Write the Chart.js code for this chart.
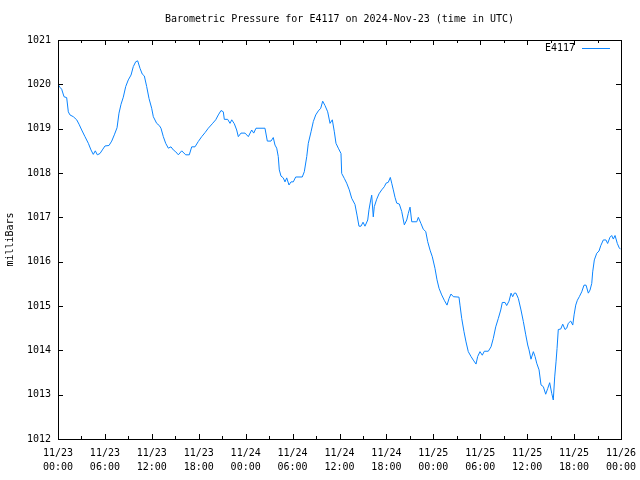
<!DOCTYPE html>
<html>
<head>
<meta charset="utf-8">
<script src="https://cdn.jsdelivr.net/npm/chart.js@4/dist/chart.umd.min.js"></script>
<style>
  html, body { margin: 0; padding: 0; background: #fff; }
  canvas { display: block; }
</style>
</head>
<body>
<canvas id="pressureChart" width="640" height="480"></canvas>
<script>
// hours since 2024-11-23 00:00 UTC
const hours = [
  0.00, 0.26, 0.47, 0.77, 1.11, 1.32, 1.53, 1.96, 2.39, 2.69, 3.03, 3.45, 3.88, 4.22, 4.51, 4.77,
  5.03, 5.37, 5.67, 6.01, 6.52, 6.87, 7.20, 7.55, 7.80, 8.06, 8.35, 8.66, 8.99, 9.34, 9.63, 9.94,
  10.19, 10.49, 10.78, 11.04, 11.34, 11.64, 11.98, 12.19, 12.62, 12.96,
  13.17, 13.47, 13.77, 14.11, 14.45, 14.75, 15.05, 15.39, 15.82, 16.33, 16.79, 17.10, 17.52, 17.94,
  18.38, 18.80, 19.22, 19.73, 20.17, 20.50, 20.85, 21.14, 21.27, 21.70, 22.00, 22.22, 22.55, 22.85,
  23.06, 23.40, 23.92, 24.34, 24.77, 25.03, 25.32, 26.47,
  26.77, 27.24, 27.53, 27.75, 27.97, 28.17, 28.30, 28.52, 28.81, 29.03, 29.25, 29.54, 29.80, 30.09,
  30.40, 31.24, 31.50, 31.81, 32.01, 32.36, 32.65, 32.96, 33.29, 33.60, 33.85, 34.15, 34.49, 34.79,
  35.08, 35.34, 35.55, 35.85, 36.19, 36.28, 36.61, 36.92, 37.25, 37.56, 37.98, 38.24, 38.49,
  38.75, 39.01, 39.26, 39.61, 39.77, 39.99, 40.12, 40.32, 40.45, 40.76, 41.05, 41.40, 41.73, 41.95,
  42.24, 42.50, 42.68, 42.88, 43.10, 43.32, 43.65, 43.96, 44.29, 44.60, 44.80, 45.02, 45.24, 45.88,
  46.08, 46.42, 46.72, 47.03, 47.28, 47.58, 47.87, 48.21, 48.47, 48.73, 49.07, 49.40, 49.75, 50.01,
  50.26, 50.56, 51.28,
  51.41, 51.63, 51.92, 52.18, 52.47, 52.82, 53.11, 53.46, 53.67, 53.97, 54.26, 54.52, 55.03, 55.38,
  55.67, 55.98, 56.31, 56.62, 56.82, 57.17, 57.38, 57.68, 57.94, 58.15, 58.36, 58.57, 58.87, 59.21,
  59.51, 59.82, 60.07, 60.24, 60.49, 60.79, 61.01, 61.22, 61.52, 61.77, 62.07, 62.37, 62.63, 62.88,
  63.14, 63.34, 63.52, 63.69, 63.82, 63.98,
  64.29, 64.55, 64.84, 65.06, 65.26, 65.57, 65.83, 66.00, 66.21, 66.42, 66.67, 66.98, 67.27, 67.53,
  67.82, 68.04, 68.26, 68.38, 68.59, 68.90, 69.19, 69.41, 69.74, 70.07, 70.29, 70.59, 70.81, 71.02,
  71.24, 71.53, 71.78, 71.95
];

// milliBars
const pressure = [
  1020.00, 1019.93, 1019.89, 1019.72, 1019.70, 1019.38, 1019.31, 1019.27, 1019.20, 1019.10, 1018.97, 1018.82, 1018.67, 1018.52, 1018.42, 1018.50,
  1018.41, 1018.44, 1018.52, 1018.61, 1018.62, 1018.72, 1018.86, 1019.02, 1019.35, 1019.55, 1019.71, 1019.95, 1020.10, 1020.21, 1020.40, 1020.51,
  1020.53, 1020.36, 1020.23, 1020.19, 1019.95, 1019.68, 1019.46, 1019.27, 1019.12, 1019.07,
  1019.01, 1018.82, 1018.67, 1018.56, 1018.59, 1018.52, 1018.48, 1018.41, 1018.50, 1018.41, 1018.41, 1018.59, 1018.59, 1018.71,
  1018.82, 1018.91, 1019.01, 1019.11, 1019.20, 1019.31, 1019.41, 1019.38, 1019.21, 1019.21, 1019.12, 1019.20, 1019.11, 1018.97,
  1018.82, 1018.90, 1018.90, 1018.82, 1018.97, 1018.90, 1019.01, 1019.01,
  1018.72, 1018.72, 1018.80, 1018.63, 1018.56, 1018.37, 1018.07, 1017.93, 1017.89, 1017.80, 1017.89, 1017.73, 1017.80, 1017.80,
  1017.91, 1017.91, 1018.03, 1018.37, 1018.67, 1018.93, 1019.16, 1019.31, 1019.40, 1019.46, 1019.62, 1019.52, 1019.38, 1019.12,
  1019.20, 1018.93, 1018.67, 1018.56, 1018.44, 1017.99, 1017.88, 1017.77, 1017.62, 1017.43, 1017.29, 1017.05, 1016.80,
  1016.80, 1016.89, 1016.80, 1016.94, 1017.17, 1017.39, 1017.50, 1017.01, 1017.24, 1017.41, 1017.53, 1017.62, 1017.69, 1017.77,
  1017.79, 1017.90, 1017.77, 1017.62, 1017.45, 1017.32, 1017.30, 1017.13, 1016.83, 1016.94, 1017.09, 1017.23, 1016.90, 1016.90,
  1017.00, 1016.86, 1016.73, 1016.68, 1016.45, 1016.26, 1016.11, 1015.85, 1015.59, 1015.40, 1015.25, 1015.13, 1015.02, 1015.17,
  1015.27, 1015.21, 1015.20,
  1015.02, 1014.72, 1014.42, 1014.19, 1013.97, 1013.86, 1013.78, 1013.69, 1013.86, 1013.97, 1013.89, 1013.98, 1013.98, 1014.08,
  1014.27, 1014.53, 1014.72, 1014.91, 1015.08, 1015.08, 1015.01, 1015.11, 1015.29, 1015.21, 1015.29, 1015.29, 1015.17, 1014.91,
  1014.65, 1014.35, 1014.12, 1014.01, 1013.80, 1013.97, 1013.86, 1013.71, 1013.56, 1013.22, 1013.18, 1013.01, 1013.14, 1013.27,
  1013.03, 1012.88, 1013.40, 1013.74, 1014.04, 1014.47,
  1014.48, 1014.59, 1014.47, 1014.50, 1014.61, 1014.66, 1014.57, 1014.80, 1015.02, 1015.13, 1015.21, 1015.32, 1015.47, 1015.47,
  1015.29, 1015.36, 1015.51, 1015.77, 1016.04, 1016.19, 1016.24, 1016.36, 1016.49, 1016.49, 1016.41, 1016.55, 1016.59, 1016.51,
  1016.59, 1016.41, 1016.31, 1016.28
];

const xTickDates = ['11/23', '11/23', '11/23', '11/23', '11/24', '11/24', '11/24', '11/24', '11/25', '11/25', '11/25', '11/25', '11/26'];
const xTickTimes = ['00:00', '06:00', '12:00', '18:00', '00:00', '06:00', '12:00', '18:00', '00:00', '06:00', '12:00', '18:00', '00:00'];

const FONT = 'DejaVu Sans Mono';
const LINE_COLOR = '#0a84ff';

// gnuplot-like frame: border box, inward ticks, title and key
const framePlugin = {
    id: 'frame',
    afterDraw(chart) {
        const ctx = chart.ctx;
        const area = chart.chartArea;
        const xs = chart.scales.x;
        const ys = chart.scales.y;
        ctx.save();
        ctx.strokeStyle = '#000';
        ctx.lineWidth = 1;
        ctx.strokeRect(Math.round(area.left) + 0.5, Math.round(area.top) + 0.5,
            Math.round(area.right - area.left), Math.round(area.bottom - area.top));

        ctx.beginPath();
        for (let v = ys.min; v <= ys.max; v += 1) {
            const py = Math.round(ys.getPixelForValue(v)) + 0.5;
            ctx.moveTo(area.left, py); ctx.lineTo(area.left + 5, py);
            ctx.moveTo(area.right, py); ctx.lineTo(area.right - 5, py);
        }
        for (let h = xs.min; h <= xs.max; h += 3) {
            const px = Math.round(xs.getPixelForValue(h)) + 0.5;
            const len = h % 6 === 0 ? 5 : 3;
            ctx.moveTo(px, area.bottom); ctx.lineTo(px, area.bottom - len);
            ctx.moveTo(px, area.top); ctx.lineTo(px, area.top + len);
        }
        ctx.stroke();

        ctx.fillStyle = '#000';
        ctx.font = '10px "' + FONT + '"';
        ctx.textAlign = 'center';
        ctx.textBaseline = 'middle';
        ctx.fillText('Barometric Pressure for E4117 on 2024-Nov-23 (time in UTC)',
            (area.left + area.right) / 2, 19);

        // key
        const ds = chart.data.datasets[0];
        ctx.textAlign = 'right';
        ctx.fillText(ds.label, area.right - 46, 48);
        ctx.strokeStyle = ds.borderColor;
        ctx.beginPath();
        ctx.moveTo(area.right - 39, 48.5);
        ctx.lineTo(area.right - 11, 48.5);
        ctx.stroke();
        ctx.restore();
    }
};

new Chart(document.getElementById('pressureChart'), {
    type: 'line',
    data: {
        datasets: [{
            label: 'E4117',
            data: hours.map((h, i) => ({ x: h, y: pressure[i] })),
            borderColor: LINE_COLOR,
            borderWidth: 1,
            pointRadius: 0,
            tension: 0,
            fill: false
        }]
    },
    options: {
        responsive: false,
        animation: false,
        layout: { padding: { top: 40, right: 19, left: 0, bottom: 0 } },
        plugins: {
            legend: { display: false },
            title: { display: false },
            tooltip: { enabled: false }
        },
        scales: {
            x: {
                type: 'linear',
                min: 0,
                max: 72,
                grid: { display: false, drawTicks: false },
                border: { display: false },
                afterFit(scale) {
                    scale.height = 41;
                    scale.paddingLeft = 0;
                    scale.paddingRight = 0;
                },
                ticks: {
                    stepSize: 6,
                    autoSkip: false,
                    maxRotation: 0,
                    padding: 7,
                    color: '#000',
                    font: { family: FONT, size: 10, lineHeight: 1.4 },
                    callback: (v) => {
                        const i = Math.round(v / 6);
                        return [xTickDates[i], xTickTimes[i]];
                    }
                }
            },
            y: {
                min: 1012,
                max: 1021,
                grid: { display: false, drawTicks: false },
                border: { display: false },
                afterFit(scale) {
                    scale.width = 58;
                    scale.paddingTop = 0;
                    scale.paddingBottom = 0;
                },
                title: {
                    display: true,
                    text: 'milliBars',
                    color: '#000',
                    font: { family: FONT, size: 10 },
                    padding: { top: 4, bottom: 0 }
                },
                ticks: {
                    stepSize: 1,
                    padding: 7,
                    color: '#000',
                    font: { family: FONT, size: 10 },
                    callback: (v) => String(v)
                }
            }
        }
    },
    plugins: [framePlugin]
});
</script>
</body>
</html>
